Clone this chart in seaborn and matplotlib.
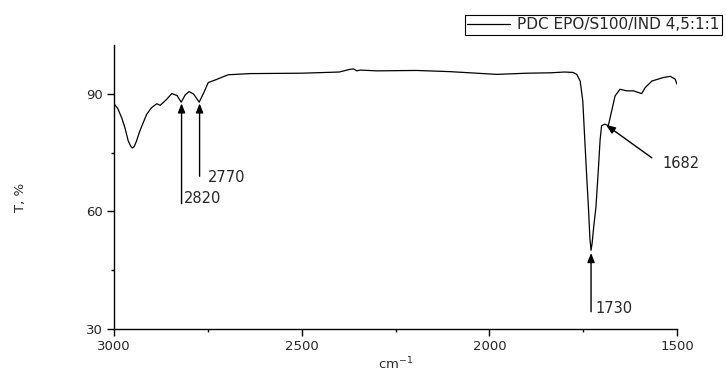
import numpy as np
import pandas as pd
import seaborn as sns
import matplotlib.pyplot as plt

# IR spectrum
wavenumber = [3000, 2990, 2979, 2971, 2962, 2955, 2951, 2946, 2940, 2931,
              2913, 2900, 2886, 2877, 2860, 2846, 2832, 2821, 2810, 2800,
              2788, 2773, 2760, 2749, 2727, 2696, 2638, 2500, 2400, 2371,
              2362, 2353, 2344, 2300, 2194, 2105, 1980, 1900, 1838, 1800,
              1777, 1767, 1758, 1751, 1745, 1740, 1736, 1732, 1729, 1726,
              1722, 1716, 1710, 1705, 1701, 1692, 1683, 1674, 1665, 1652,
              1634, 1616, 1594, 1585, 1567, 1536, 1518, 1505, 1500]
transmittance = [87.5, 86.3, 83.8, 81.4, 78.0, 76.6, 76.2, 76.6, 78.0, 80.6,
                 84.8, 86.5, 87.5, 87.1, 88.6, 90.1, 89.6, 87.9, 89.8, 90.6,
                 90.0, 87.9, 90.5, 92.9, 93.7, 94.9, 95.2, 95.3, 95.6, 96.3,
                 96.4, 95.9, 96.1, 95.9, 96.0, 95.7, 95.0, 95.3, 95.4, 95.6,
                 95.5, 95.0, 93.3, 88.2, 77.0, 68.0, 61.1, 53.0, 50.1, 52.0,
                 56.0, 61.1, 70.0, 78.1, 81.9, 82.3, 81.9, 85.7, 89.5, 91.2,
                 90.8, 90.8, 90.1, 91.6, 93.3, 94.2, 94.5, 93.8, 92.5]
sample = 'PDC EPO/S100/IND 4,5:1:1'

df = pd.DataFrame({'cm-1': wavenumber, 'T, %': transmittance, 'sample': sample})

sns.set_style('ticks')
plt.rcParams['font.family'] = ['DejaVu Sans']

fig = plt.figure(figsize=(7.26, 3.71), dpi=100)
ax = fig.add_axes([114 / 726, 42 / 371, 563 / 726, 284 / 371])

sns.lineplot(data=df, x='cm-1', y='T, %', hue='sample', palette=['black'],
             linewidth=0.9, sort=False, ax=ax)

ax.set_xlim(3000, 1500)
ax.set_ylim(30, 102.5)
ax.set_xticks([3000, 2500, 2000, 1500])
ax.set_xticks([2750, 2250, 1750], minor=True)
ax.set_yticks([30, 60, 90])
ax.set_yticks([45, 75], minor=True)
ax.tick_params(axis='both', which='major', direction='out', length=5, width=1,
               labelsize=9.5, pad=3, color='black')
ax.tick_params(axis='both', which='minor', direction='out', length=2.5, width=1,
               color='black')
sns.despine(ax=ax)
for s in ['left', 'bottom']:
    ax.spines[s].set_linewidth(1)
    ax.spines[s].set_color('black')

ax.set_xlabel('cm$^{-1}$', fontsize=9.5, labelpad=2)
ax.set_ylabel('T, %', fontsize=9.5)
ax.yaxis.set_label_coords(-0.155, 0.465)

arrow = dict(arrowstyle='-|>,head_length=0.55,head_width=0.22', color='black',
             lw=1, shrinkA=0, shrinkB=0)
ax.annotate('', xy=(2820, 87.6), xytext=(2820, 62.0), arrowprops=arrow)
ax.text(2814, 63.4, '2820', ha='left', va='center', fontsize=10.5)
ax.annotate('', xy=(2772, 87.6), xytext=(2772, 69.0), arrowprops=arrow)
ax.text(2750, 68.6, '2770', ha='left', va='center', fontsize=10.5)
ax.annotate('', xy=(1729, 49.4), xytext=(1729, 34.4), arrowprops=arrow)
ax.text(1718, 35.3, '1730', ha='left', va='center', fontsize=10.5)
ax.annotate('', xy=(1689, 82.1), xytext=(1567, 73.7), arrowprops=arrow)
ax.text(1538, 72.3, '1682', ha='left', va='center', fontsize=10.5)

leg = ax.legend(loc='upper right', bbox_to_anchor=(722 / 726, 1 - 15 / 371),
                bbox_transform=fig.transFigure, frameon=True, fancybox=False,
                edgecolor='black', framealpha=1, borderpad=0.15,
                handlelength=2.8, handletextpad=0.5, fontsize=11,
                borderaxespad=0)
leg.get_frame().set_linewidth(0.8)

fig.savefig('out.png', dpi=100)
